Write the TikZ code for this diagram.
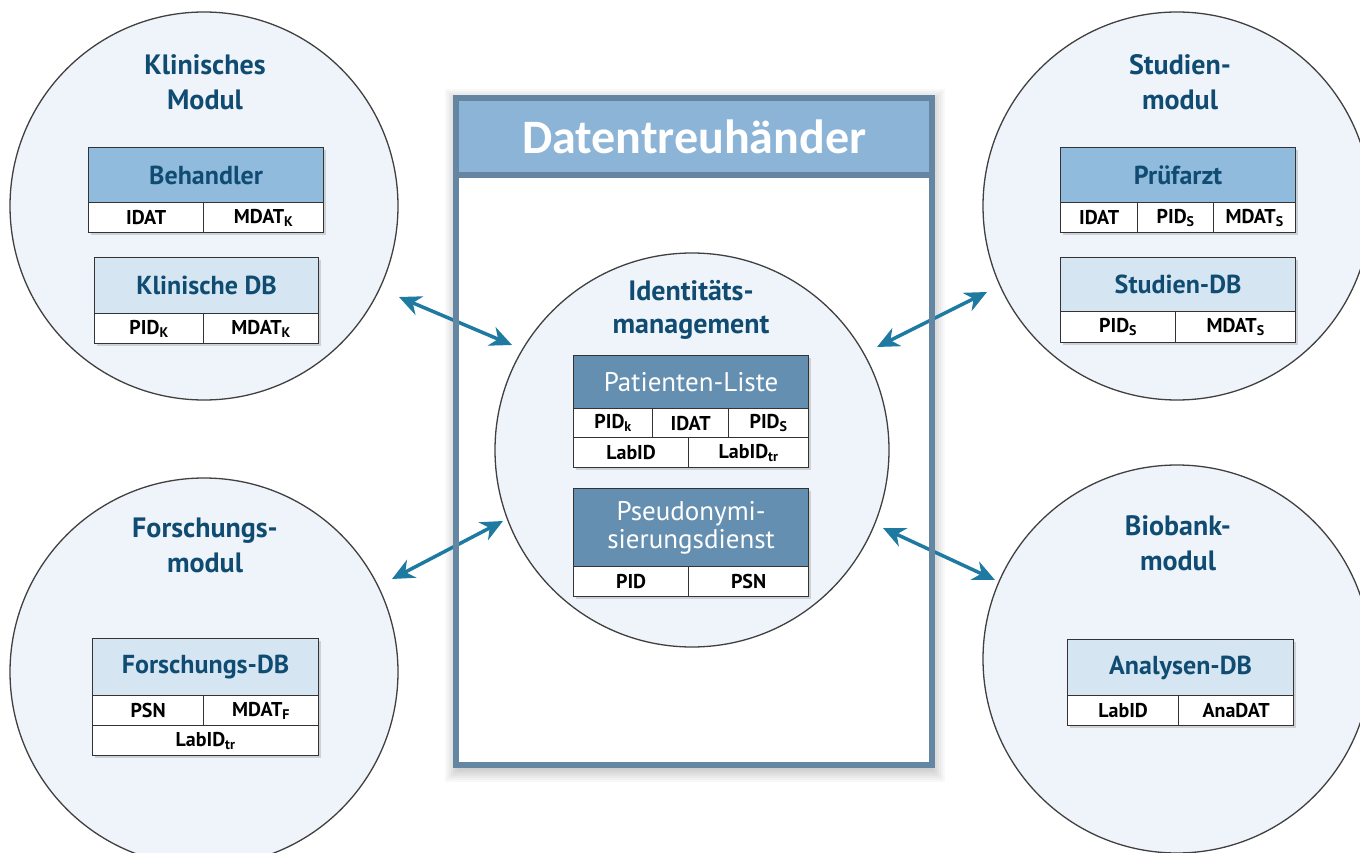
\documentclass[tikz,border=0pt]{standalone}
\usepackage{fontspec}
\setmainfont{PT Sans}
\newfontfamily\calfont{Carlito}
\usetikzlibrary{arrows.meta,shadows}
\definecolor{titleblue}{RGB}{16,76,114}
\definecolor{medblue}{RGB}{145,187,220}
\definecolor{lightblue}{RGB}{213,229,242}
\definecolor{darkblue}{RGB}{100,143,176}
\definecolor{dthead}{RGB}{139,180,215}
\definecolor{dtborder}{RGB}{101,134,162}
\definecolor{arrowblue}{RGB}{30,122,160}
\definecolor{circfill}{RGB}{239,244,251}
\newcommand\sbs[1]{\textsubscript{#1}}
\begin{document}
\begin{tikzpicture}[x=1pt,y=-1pt,
  modcirc/.style={circle, draw=black!75, line width=1.3pt, fill=circfill, inner sep=0pt},
  modtitle/.style={align=center, text=titleblue, font=\bfseries\fontsize{28}{35}\selectfont},
  tbl/.style={draw=black!80, line width=1.2pt, inner sep=0pt, anchor=north west,
    drop shadow={shadow xshift=2.5pt, shadow yshift=-2.5pt, opacity=0.3}},
  hdr/.style={tbl, text=titleblue, font=\bfseries\fontsize{26}{28}\selectfont},
  whdr/.style={tbl, fill=darkblue, text=white, align=center, font=\fontsize{27}{28}\selectfont},
  cell/.style={tbl, fill=white, text=black, minimum height=30pt, font=\bfseries\fontsize{20}{20}\selectfont},
  arr/.style={draw=arrowblue, line width=3.5pt,
    {Stealth[length=22pt,width=20pt,inset=7pt]}-{Stealth[length=22pt,width=20pt,inset=7pt]}},
  dtline/.style={draw=dtborder, line width=6pt}
]
\useasboundingbox (0,0) rectangle (1360,853);
\fill[white] (0,0) rectangle (1360,853);

% ---------- module circles ----------
\node[modcirc, minimum size=388pt] (kc) at (204,206) {};
\node[modcirc, minimum size=388pt] (sc) at (1177,206) {};
\node[modcirc, minimum size=388pt] (fc) at (204,672) {};
\node[modcirc, minimum size=388pt] (bc) at (1177,659) {};

% ---------- Datentreuhaender box ----------
\foreach \s in {2,4,...,14}
  \fill[black, opacity=0.028] (456-\s+3,98-\s+5) rectangle (932+\s-1,765+\s+3);
\node[fill=white, minimum width=476pt, minimum height=667pt, inner sep=0pt, anchor=north west] (dt) at (456,98) {};
\node[fill=dthead, minimum width=476pt, minimum height=77pt, inner sep=0pt, anchor=north west,
  text=white, font=\calfont\bfseries\fontsize{48}{50}\selectfont] (dth) at (456,98) {Datentreuh\"ander};

% ---------- center circle ----------
\node[modcirc, minimum size=394pt] (ic) at (692,450) {};

% ---------- arrows ----------
\coordinate (a1s) at (399,297); \coordinate (a1e) at (512,345);
\coordinate (a2s) at (877,347); \coordinate (a2e) at (987,292);
\coordinate (a3s) at (392,579); \coordinate (a3e) at (503,521);
\coordinate (a4s) at (883,528); \coordinate (a4e) at (995,580);
\draw[arr] (a1s) -- (a1e);
\draw[arr] (a2s) -- (a2e);
\draw[arr] (a3s) -- (a3e);
\draw[arr] (a4s) -- (a4e);

% border of Datentreuhaender on top
\draw[dtline] (dt.north west) rectangle (dt.south east);
\draw[dtline] (dth.south west) -- (dth.south east);

% ---------- Klinisches Modul ----------
\node[modtitle] (kt) at (205,82) {Klinisches\\Modul};
\node[hdr, fill=medblue, minimum width=235pt, minimum height=55pt] (beh) at (88,147) {Behandler};
\node[cell, minimum width=115pt] (beh1) at (88,202) {IDAT};
\node[cell, minimum width=120pt] (beh2) at (203,202) {MDAT\sbs{K}};
\node[hdr, fill=lightblue, minimum width=224pt, minimum height=56pt] (kdb) at (94,257) {Klinische DB};
\node[cell, minimum width=109pt] (kdb1) at (94,313) {PID\sbs{K}};
\node[cell, minimum width=115pt] (kdb2) at (203,313) {MDAT\sbs{K}};

% ---------- Studienmodul ----------
\node[modtitle] (st) at (1180,82) {Studien-\\modul};
\node[hdr, fill=medblue, minimum width=235pt, minimum height=55pt] (pa) at (1060,147) {Pr\"ufarzt};
\node[cell, minimum width=77pt] (pa1) at (1060,202) {IDAT};
\node[cell, minimum width=76pt] (pa2) at (1137,202) {PID\sbs{S}};
\node[cell, minimum width=82pt] (pa3) at (1213,202) {MDAT\sbs{S}};
\node[hdr, fill=lightblue, minimum width=235pt, minimum height=54pt] (sdb) at (1060,257) {Studien-DB};
\node[cell, minimum width=115pt, minimum height=31pt] (sdb1) at (1060,311) {PID\sbs{S}};
\node[cell, minimum width=120pt, minimum height=31pt] (sdb2) at (1175,311) {MDAT\sbs{S}};

% ---------- Forschungsmodul ----------
\node[modtitle] (ft) at (205,545) {Forschungs-\\modul};
\node[hdr, fill=lightblue, minimum width=226pt, minimum height=57pt] (fdb) at (92,638) {Forschungs-DB};
\node[cell, minimum width=111pt] (fdb1) at (92,695) {PSN};
\node[cell, minimum width=115pt] (fdb2) at (203,695) {MDAT\sbs{F}};
\node[cell, minimum width=226pt] (fdb3) at (92,725) {LabID\sbs{tr}};

% ---------- Biobankmodul ----------
\node[modtitle] (bt) at (1178,543) {Biobank-\\modul};
\node[hdr, fill=lightblue, minimum width=226pt, minimum height=56pt] (adb) at (1067,639) {Analysen-DB};
\node[cell, minimum width=111pt] (adb1) at (1067,695) {LabID};
\node[cell, minimum width=115pt] (adb2) at (1178,695) {AnaDAT};

% ---------- Identitaetsmanagement ----------
\node[modtitle, font=\bfseries\fontsize{28}{33}\selectfont] (it) at (691,310) {Identit\"ats-\\management};
\node[whdr, minimum width=235pt, minimum height=53pt] (pl) at (573,355) {Patienten-Liste};
\node[cell, minimum width=79pt, minimum height=29pt] (pl1) at (573,408) {PID\sbs{k}};
\node[cell, minimum width=76pt, minimum height=29pt] (pl2) at (652,408) {IDAT};
\node[cell, minimum width=80pt, minimum height=29pt] (pl3) at (728,408) {PID\sbs{S}};
\node[cell, minimum width=115pt] (pl4) at (573,437) {LabID};
\node[cell, minimum width=120pt] (pl5) at (688,437) {LabID\sbs{tr}};
\node[whdr, minimum width=235pt, minimum height=78pt] (ps) at (573,488) {Pseudonymi-\\sierungsdienst};
\node[cell, minimum width=115pt] (ps1) at (573,566) {PID};
\node[cell, minimum width=120pt] (ps2) at (688,566) {PSN};
\end{tikzpicture}
\end{document}
